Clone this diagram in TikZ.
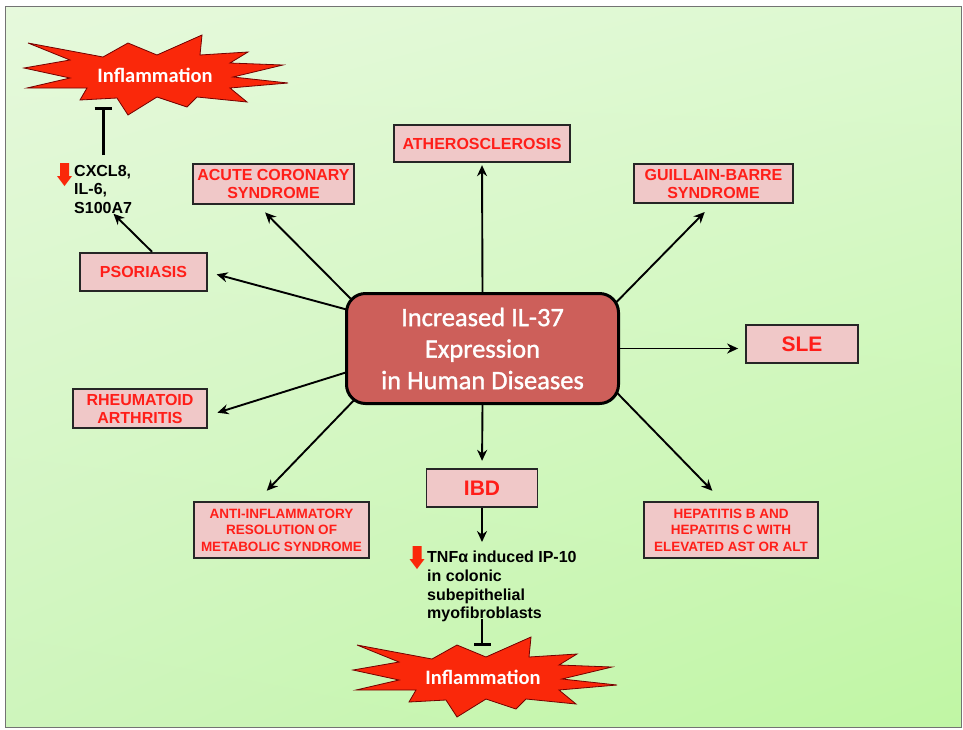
\documentclass[tikz,border=0pt]{standalone}
\usepackage{fontspec}
\setmainfont{Liberation Sans}
\newfontfamily\calfont{Carlito}
\newfontfamily\hubfont[FakeBold=1.2]{Carlito}
\usetikzlibrary{arrows.meta,backgrounds,shadings}
\definecolor{boxpink}{RGB}{240,200,200}
\definecolor{boxred}{RGB}{255,30,25}
\definecolor{hubred}{RGB}{205,95,90}
\definecolor{burstred}{RGB}{250,40,10}
\definecolor{bgA}{RGB}{230,249,220}
\definecolor{bgB}{RGB}{221,249,208}
\definecolor{bgC}{RGB}{206,245,188}
\definecolor{bgD}{RGB}{192,246,164}

\begin{document}
\begin{tikzpicture}[
        x=1pt, y=-1pt,
        box/.style={draw=black!85, line width=1.8pt, fill=boxpink, text=boxred, align=center, inner sep=0pt, font=\fontsize{16}{18}\selectfont\bfseries},
        bigbox/.style={box, font=\fontsize{21}{24}\selectfont\bfseries},
        smallbox/.style={box, font=\fontsize{13.5}{16.5}\selectfont\bfseries},
        hub/.style={draw, line width=3pt, fill=hubred, rounded corners=19pt, text=white, align=center, minimum width=272pt, minimum height=110pt, font=\hubfont\fontsize{26.5}{31.5}\selectfont},
        ar/.style={-{Stealth[length=11pt,width=10pt]}, line width=1.9pt},
        inh/.style={-{Bar[width=17pt,line width=2.8pt]}, line width=2.8pt},
        note/.style={align=left, inner sep=0pt, font=\fontsize{16}{18.5}\selectfont\bfseries},
        burstlabel/.style={text=white, inner sep=0pt, font=\calfont\bfseries\fontsize{20.5}{24}\selectfont},
        downarr/.pic={\fill[burstred] (-4.5,0) -- (4.5,0) -- (4.5,13) -- (7.5,13) -- (0,23) -- (-7.5,13) -- (-4.5,13) -- cycle;},
        burst/.pic={\filldraw[fill=burstred, draw=black!55!red, line width=0.8pt]
            (-132,-7) -- (-86,-15) -- (-128,-32) -- (-53,-18) -- (-28,-32) -- (1,-20) -- (46,-40) -- (44,-20)
            -- (92,-23) -- (74,-12) -- (127,-10) -- (77,2) -- (132,8) -- (74,13) -- (91,27) -- (41,22)
            -- (31,32) -- (1,22) -- (-28,40) -- (-39,23) -- (-76,25) -- (-69,13) -- (-129,13) -- (-86,3) -- cycle;},
    ]

    \useasboundingbox (0,0) rectangle (963,729);
    \begin{scope}[on background layer]
        \shade[upper left=bgA, upper right=bgB, lower left=bgC, lower right=bgD] (5,6) rectangle (961,727);
        \draw[black!55, line width=0.8pt] (5,6) rectangle (961,727);
    \end{scope}

    % centre
    \node[hub](hub) at (482.5,348.5) {Increased IL-37\\Expression\\in Human Diseases};

    % diseases
    \node[box, minimum width=176pt, minimum height=37.5pt](ath) at (482,143.5) {ATHEROSCLEROSIS};
    \node[box, minimum width=161pt, minimum height=39.5pt](acs) at (273.5,184) {ACUTE CORONARY\\SYNDROME};
    \node[box, minimum width=159.5pt, minimum height=39.5pt](gbs) at (713.5,183.5) {GUILLAIN-BARRE\\SYNDROME};
    \node[box, minimum width=127pt, minimum height=38.5pt](pso) at (143.5,272) {PSORIASIS};
    \node[bigbox, minimum width=112pt, minimum height=38.5pt](sle) at (802,344) {SLE};
    \node[box, minimum width=134pt, minimum height=39.5pt](ra) at (140,408.5) {RHEUMATOID\\ARTHRITIS};
    \node[bigbox, minimum width=111pt, minimum height=38.5pt](ibd) at (482,488) {IBD};
    \node[smallbox, minimum width=175pt, minimum height=56.5pt](anti) at (281.5,530) {ANTI-INFLAMMATORY\\RESOLUTION OF\\METABOLIC SYNDROME};
    \node[smallbox, minimum width=174.5pt, minimum height=56.5pt](hep) at (731,530) {HEPATITIS B AND\\HEPATITIS C WITH\\ELEVATED AST OR ALT};

    % inflammation
    \pic at (156,75) {burst};
    \node[burstlabel](inflA) at (155,75) {Inflammation};
    \pic at (485,677) {burst};
    \node[burstlabel](inflB) at (483,677) {Inflammation};
    \coordinate (inhA) at (104,107);
    \coordinate (inhB) at (482,646);

    % mediators
    \node[note, anchor=north west](cxcl) at (74,165) {CXCL8,\\IL-6,\\S100A7};
    \pic at (64.5,163) {downarr};
    \node[note, anchor=north west, font=\fontsize{16}{18.7}\selectfont\bfseries](tnf) at (427,551) {TNFα induced IP-10\\in colonic\\subepithelial\\myofibroblasts};
    \pic at (417,546) {downarr};

    \begin{scope}[on background layer]
        \draw[ar, shorten >=2pt, shorten <=-6pt] (hub.north) -- (ath.south);
        \draw[ar, shorten >=11pt, shorten <=-8pt] (hub.158.5) -- (acs.232.7);
        \draw[ar, shorten >=11pt, shorten <=-8pt] (hub.20.6) -- (gbs.267);
        \draw[ar, shorten >=9pt, shorten <=-6pt] (hub.164.6) -- (pso.east);
        \draw[ar, shorten >=7pt, shorten <=-6pt] (hub.east) -- (hub.east -| sle.west);
        \draw[ar, shorten >=10pt, shorten <=-6pt] (hub.190.75) -- (ra.-6.7);
        \draw[ar, shorten >=14pt, shorten <=-8pt] (hub.203.1) -- (anti.130.6);
        \draw[ar, shorten >=7pt, shorten <=-6pt] (hub.south) -- (ibd.north);
        \draw[ar, shorten >=14pt, shorten <=-8pt] (hub.-19.8) -- (hep.107.8);
    \end{scope}

    \draw[ar] (pso.67) -- (cxcl.-67);
    \draw[inh, shorten <=10pt] (cxcl.north) -- (cxcl.north |- inhA);
    \draw[ar, shorten >=9pt] (ibd.south) -- (ibd.south |- tnf.north);
    \draw[inh, shorten <=-3pt] (tnf.south -| inhB) -- (inhB);

\end{tikzpicture}
\end{document}
